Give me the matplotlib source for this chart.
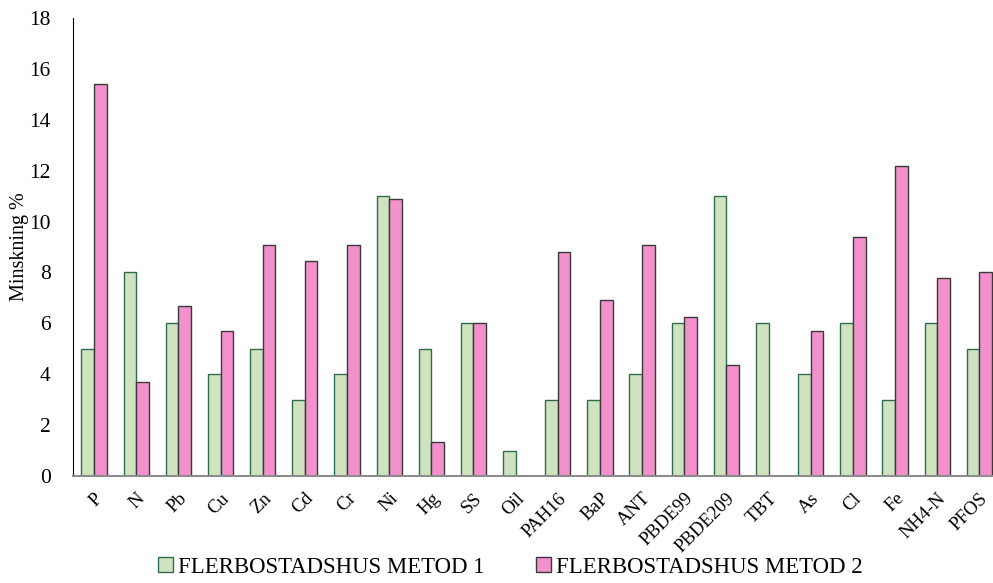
import matplotlib.pyplot as plt
import numpy as np

plt.rcParams['font.family'] = ['Liberation Serif', 'DejaVu Serif']

categories = ['P', 'N', 'Pb', 'Cu', 'Zn', 'Cd', 'Cr', 'Ni', 'Hg', 'SS', 'Oil', 'PAH16',
              'BaP', 'ANT', 'PBDE99', 'PBDE209', 'TBT', 'As', 'Cl', 'Fe', 'NH4-N', 'PFOS']
metod1 = [5, 8, 6, 4, 5, 3, 4, 11, 5, 6, 1, 3, 3, 4, 6, 11, 6, 4, 6, 3, 6, 5]
metod2 = [15.4, 3.7, 6.67, 5.7, 9.1, 8.45, 9.1, 10.9, 1.33, 6, 0, 8.8,
          6.9, 9.1, 6.25, 4.35, 0, 5.7, 9.4, 12.2, 7.8, 8.0]
yticks = [0, 2, 4, 6, 8, 10, 12, 14, 16, 18]

fig = plt.figure(figsize=(9.93, 5.83), dpi=100)
ax = fig.add_axes([0.0735, 0.1835, 0.934, 0.7855])

x = np.arange(len(categories))
width = 0.3
ax.bar(x - width/2, metod1, width, color='#cfe3c1', edgecolor='#2f6b4c', linewidth=1.0,
       label='FLERBOSTADSHUS METOD 1')
ax.bar(x + width/2, metod2, width, color='#f291cc', edgecolor='#3a3a3a', linewidth=1.0,
       label='FLERBOSTADSHUS METOD 2')

ax.set_xlim(-0.5, len(categories) - 0.5)
ax.set_ylim(0, 18)
ax.set_yticks(yticks)
ax.set_yticklabels([str(t) for t in yticks], fontsize=15.5)
ax.set_xticks(x)
ax.set_xticklabels(categories, rotation=45, ha='right', rotation_mode='anchor', fontsize=13.5)
ax.tick_params(axis='x', length=0, pad=10)
ax.tick_params(axis='y', length=0, pad=16)
ax.set_ylabel('Minskning %', fontsize=14.5)
ax.yaxis.set_label_coords(-0.047, 0.5)

ax.spines['top'].set_visible(False)
ax.spines['right'].set_visible(False)
ax.spines['left'].set_color('black')
ax.spines['bottom'].set_color('#8c8c8c')
ax.spines['bottom'].set_linewidth(1.5)

fig.legend(loc='center', bbox_to_anchor=(0.514, 0.027), ncol=2, frameon=False, fontsize=16.4,
           handlelength=0.65, handleheight=0.65, handletextpad=0.25, columnspacing=2.25)

plt.savefig('out.png', dpi=100)
